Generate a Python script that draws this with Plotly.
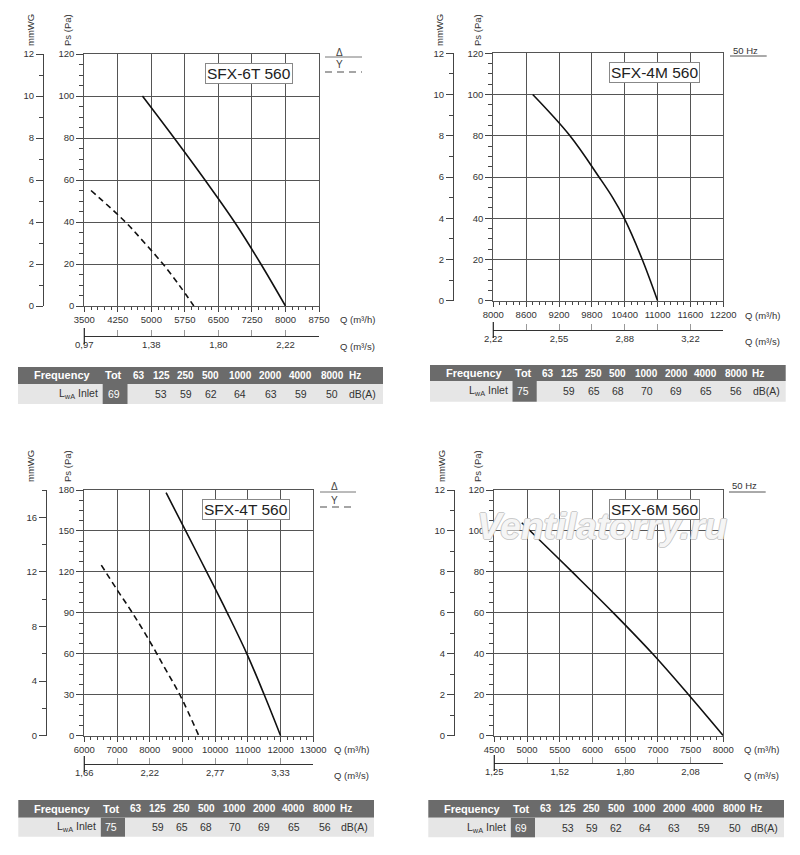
import plotly.graph_objects as go

W, H = 800, 855

# ---------------- data ----------------
BANDS = ["63", "125", "250", "500", "1000", "2000", "4000", "8000"]

# SFX-6T 560
M1_NAME = "SFX-6T 560"
M1_Q_TICKS = [3500, 4250, 5000, 5750, 6500, 7250, 8000, 8750]
M1_PS_TICKS = [0, 20, 40, 60, 80, 100, 120]
M1_MM_TICKS = [0, 2, 4, 6, 8, 10, 12]
M1_DELTA_Q = [4800, 5510, 6200, 6860, 7450, 8000]
M1_DELTA_PS = [100, 80, 60, 40, 20, 0]
M1_STAR_Q = [3650, 4420, 4850, 5260, 5620, 5950]
M1_STAR_PS = [55, 40, 30, 20, 10, 0]
M1_TOT = 69
M1_LWA = ["", 53, 59, 62, 64, 63, 59, 50]

# SFX-4M 560
M2_NAME = "SFX-4M 560"
M2_Q_TICKS = [8000, 8600, 9200, 9800, 10400, 11000, 11600, 12200]
M2_PS_TICKS = [0, 20, 40, 60, 80, 100, 120]
M2_MM_TICKS = [0, 2, 4, 6, 8, 10, 12]
M2_Q = [8720, 9400, 9930, 10180, 10390, 10720, 11000]
M2_PS = [100, 80, 60, 50, 40, 20, 0]
M2_TOT = 75
M2_LWA = ["", 59, 65, 68, 70, 69, 65, 56]

# SFX-4T 560
M3_NAME = "SFX-4T 560"
M3_Q_TICKS = [6000, 7000, 8000, 9000, 10000, 11000, 12000, 13000]
M3_PS_TICKS = [0, 30, 60, 90, 120, 150, 180]
M3_MM_TICKS = [0, 4, 8, 12, 16]
M3_DELTA_Q = [8500, 9100, 9740, 10370, 10970, 11500, 12000]
M3_DELTA_PS = [178, 150, 120, 90, 60, 30, 0]
M3_STAR_Q = [6520, 7000, 7470, 7980, 8450, 8920, 9500]
M3_STAR_PS = [125, 107, 90, 70, 50, 30, 0]
M3_TOT = 75
M3_LWA = ["", 59, 65, 68, 70, 69, 65, 56]

# SFX-6M 560
M4_NAME = "SFX-6M 560"
M4_Q_TICKS = [4500, 5000, 5500, 6000, 6500, 7000, 7500, 8000]
M4_PS_TICKS = [0, 20, 40, 60, 80, 100, 120]
M4_MM_TICKS = [0, 2, 4, 6, 8, 10, 12]
M4_Q = [4920, 5050, 5690, 6320, 6920, 7470, 8000]
M4_PS = [104, 100, 80, 60, 40, 20, 0]
M4_TOT = 69
M4_LWA = ["", 53, 59, 62, 64, 63, 59, 50]

# ---------------- geometry (pixels) ----------------
GEOM = [
    dict(x0=84.3, x1=319, y0=54, y1=306, mm_x=43, sec_y=336, ttl_y=30, mm_tx=30, ps_tx=67,
         qh=(338, 319), qs=(338, 346.5), name_c=(249.3, 73.3), leg="dy", leg_x=(325, 362), leg_y=(57, 72),
         table=(18, 383, 367, 384, 404)),
    dict(x0=493.3, x1=723.3, y0=53.3, y1=300.7, mm_x=453, sec_y=330, ttl_y=30, mm_tx=439, ps_tx=477,
         qh=(743, 315.7), qs=(743, 341.7), name_c=(654.5, 72.8), leg="hz", leg_x=(730, 766.7), leg_y=(56, 50),
         table=(430, 785.7, 365, 381, 401.7)),
    dict(x0=84.3, x1=313.3, y0=490, y1=735.7, mm_x=46, sec_y=764, ttl_y=466, mm_tx=30, ps_tx=67,
         qh=(332, 749), qs=(332, 775), name_c=(245.5, 509), leg="dy", leg_x=(320, 356), leg_y=(492, 507),
         table=(18.3, 374, 800, 817.7, 836.7)),
    dict(x0=494.3, x1=723.3, y0=490, y1=735.7, mm_x=454, sec_y=763, ttl_y=466, mm_tx=441, ps_tx=477,
         qh=(742, 749), qs=(742, 775), name_c=(654, 509), leg="hz", leg_x=(729, 765.7), leg_y=(492, 485.7),
         table=(428.3, 784, 800, 817.7, 837.3)),
]

PANELS = [
    dict(name=M1_NAME, q=M1_Q_TICKS, ps=M1_PS_TICKS, mm=M1_MM_TICKS,
         curves=[(M1_DELTA_Q, M1_DELTA_PS, "solid"), (M1_STAR_Q, M1_STAR_PS, "dash")], tot=M1_TOT, lwa=M1_LWA),
    dict(name=M2_NAME, q=M2_Q_TICKS, ps=M2_PS_TICKS, mm=M2_MM_TICKS,
         curves=[(M2_Q, M2_PS, "solid")], tot=M2_TOT, lwa=M2_LWA),
    dict(name=M3_NAME, q=M3_Q_TICKS, ps=M3_PS_TICKS, mm=M3_MM_TICKS,
         curves=[(M3_DELTA_Q, M3_DELTA_PS, "solid"), (M3_STAR_Q, M3_STAR_PS, "dash")], tot=M3_TOT, lwa=M3_LWA),
    dict(name=M4_NAME, q=M4_Q_TICKS, ps=M4_PS_TICKS, mm=M4_MM_TICKS,
         curves=[(M4_Q, M4_PS, "solid")], tot=M4_TOT, lwa=M4_LWA),
]

# table column centres as fraction of table width
COL_TOT = 0.262
COL_BANDS = [0.331, 0.392, 0.460, 0.528, 0.609, 0.692, 0.775, 0.861]
COL_HZ = 0.922
COL_DBA = 0.945

FONT = "Liberation Sans, Arial, sans-serif"
TXT = "#333333"
GRID = "#555555"
DARK = "#6b6b6b"
LIGHT = "#e6e6e6"


def px(x):
    return x / W


def py(y):
    return 1 - y / H


def trunc2(v):
    return f"{int(v * 100 + 1e-9) / 100:.2f}".replace(".", ",")


fig = go.Figure()
layout = {}
shapes = []

# watermark first so the model boxes sit on top of it
annots = [dict(text="<b><i>Ventilatorry.ru</i></b>", x=px(602), y=py(526),
               font=dict(size=37, color="rgba(255,255,255,0.85)", family=FONT,
                         shadow="1px 0 0 #c2c2c2, -1px 0 0 #c2c2c2, 0 1px 0 #c2c2c2, 0 -1px 0 #c2c2c2"))]

for i, (p, g) in enumerate(zip(PANELS, GEOM)):
    n = i + 1
    s = n + 4
    q = p["q"]
    ps = p["ps"]
    mm = p["mm"]
    tickfont = dict(size=9.5, color=TXT, family=FONT)

    layout[f"xaxis{n}"] = dict(
        domain=[px(g["x0"]), px(g["x1"])], anchor=f"y{n}", range=[q[0], q[-1]], automargin=False,
        tickmode="array", tickvals=q, ticktext=[str(v) for v in q],
        ticks="outside", ticklen=5, tickcolor="#444", tickfont=tickfont,
        showline=True, mirror=True, linecolor=GRID, linewidth=1,
        showgrid=True, gridcolor=GRID, gridwidth=1, zeroline=False,
        minor=dict(tick0=q[0], dtick=(q[1] - q[0]) / 5, ticks="outside", ticklen=3,
                   tickcolor="#444", showgrid=False),
    )
    layout[f"yaxis{n}"] = dict(
        domain=[py(g["y1"]), py(g["y0"])], anchor=f"x{n}", range=[0, ps[-1]], automargin=False,
        tickmode="array", tickvals=ps, ticktext=[str(v) for v in ps],
        ticks="outside", ticklen=7, tickcolor="#444", tickfont=tickfont,
        showline=True, mirror=True, linecolor=GRID, linewidth=1,
        showgrid=True, gridcolor=GRID, gridwidth=1, zeroline=False,
        minor=dict(tick0=0, dtick=(ps[1] - ps[0]) / 4, ticks="outside", ticklen=4,
                   tickcolor="#444", showgrid=False),
    )
    # m3/s axis: labelled every second grid line, plain ticks in between
    qs_step = (q[1] - q[0]) / 3600
    qs_vals = [v / 3600 for v in q[::2]]
    layout[f"xaxis{s}"] = dict(
        overlaying=f"x{n}", anchor="free", position=py(g["sec_y"]), side="bottom", automargin=False,
        range=[q[0] / 3600, q[-1] / 3600], tickmode="array", tickvals=qs_vals,
        ticktext=[trunc2(v) for v in qs_vals],
        ticks="inside", ticklen=6, tickcolor="#999", tickfont=tickfont,
        showline=True, linecolor="#333", linewidth=1, showgrid=False, zeroline=False,
        minor=dict(tick0=q[0] / 3600, dtick=qs_step, ticks="inside", ticklen=6, tickcolor="#999"),
    )
    # mmWG axis
    layout[f"yaxis{s}"] = dict(
        overlaying=f"y{n}", anchor="free", position=px(g["mm_x"]), side="left", automargin=False,
        range=[0, ps[-1] / 10], tickmode="array", tickvals=mm, ticktext=[str(v) for v in mm],
        ticks="outside", ticklen=7, tickcolor="#444", tickfont=tickfont,
        showline=True, linecolor="#444", linewidth=1, showgrid=False, zeroline=False,
        minor=dict(tick0=0, dtick=(mm[1] - mm[0]) / 2, ticks="outside", ticklen=4, tickcolor="#444"),
    )
    fig.add_trace(go.Scatter(x=[q[0] / 3600], y=[0], xaxis=f"x{s}", yaxis=f"y{n}", mode="markers",
                             marker=dict(opacity=0), hoverinfo="skip", showlegend=False))
    fig.add_trace(go.Scatter(x=[q[0]], y=[0], xaxis=f"x{n}", yaxis=f"y{s}", mode="markers",
                             marker=dict(opacity=0), hoverinfo="skip", showlegend=False))

    for cq, cps, dash in p["curves"]:
        fig.add_trace(go.Scatter(
            x=cq, y=cps, xaxis=f"x{n}", yaxis=f"y{n}", mode="lines",
            line=dict(color="#111", width=1.6, dash="6px,4px" if dash == "dash" else "solid",
                      shape="spline", smoothing=1),
            hoverinfo="skip", showlegend=False, cliponaxis=False,
        ))

    # tall tick at start of m3/s axis
    shapes.append(dict(type="line", xref="paper", yref="paper",
                       x0=px(g["x0"]), x1=px(g["x0"]), y0=py(g["sec_y"] - 8), y1=py(g["sec_y"] + 8),
                       line=dict(color="#222", width=1.2)))

    # axis titles
    annots.append(dict(text="mmWG", x=px(g["mm_tx"]), y=py(g["ttl_y"]), textangle=-90))
    annots.append(dict(text="Ps (Pa)", x=px(g["ps_tx"]), y=py(g["ttl_y"]), textangle=-90))
    annots.append(dict(text="Q (m³/h)", x=px(g["qh"][0]), y=py(g["qh"][1]), xanchor="left"))
    annots.append(dict(text="Q (m³/s)", x=px(g["qs"][0]), y=py(g["qs"][1]), xanchor="left"))

    # model name box
    annots.append(dict(text=p["name"], x=px(g["name_c"][0]), y=py(g["name_c"][1]),
                       font=dict(size=15.5, color="#222", family=FONT),
                       bgcolor="white", bordercolor="#888", borderwidth=1, borderpad=1))

    # legend
    lx0, lx1 = g["leg_x"]
    if g["leg"] == "dy":
        l1, l2 = g["leg_y"]
        shapes.append(dict(type="line", xref="paper", yref="paper", x0=px(lx0), x1=px(lx1),
                           y0=py(l1), y1=py(l1), line=dict(color="#777", width=1)))
        shapes.append(dict(type="line", xref="paper", yref="paper", x0=px(lx0), x1=px(lx1),
                           y0=py(l2), y1=py(l2), line=dict(color="#888", width=1.6, dash="7px,5px")))
        annots.append(dict(text="Δ", x=px(lx0 + 14), y=py(l1 - 5), font=dict(size=10, color="#444", family=FONT)))
        annots.append(dict(text="Y", x=px(lx0 + 14), y=py(l2 - 7), font=dict(size=10, color="#444", family=FONT)))
    else:
        ly, ty = g["leg_y"]
        shapes.append(dict(type="line", xref="paper", yref="paper", x0=px(lx0), x1=px(lx1),
                           y0=py(ly), y1=py(ly), line=dict(color="#555", width=1)))
        annots.append(dict(text="50 Hz", x=px(lx0 + 1), y=py(ty), xanchor="left",
                           font=dict(size=9.5, color="#333", family=FONT)))

    # sound table
    tx0, tx1, th0, th1, tr1 = g["table"]
    tw = tx1 - tx0
    shapes.append(dict(type="rect", xref="paper", yref="paper", x0=px(tx0), x1=px(tx1),
                       y0=py(th1), y1=py(th0), fillcolor=DARK, line=dict(width=0), layer="below"))
    shapes.append(dict(type="rect", xref="paper", yref="paper", x0=px(tx0), x1=px(tx1),
                       y0=py(tr1), y1=py(th1), fillcolor=LIGHT, line=dict(width=0), layer="below"))
    shapes.append(dict(type="rect", xref="paper", yref="paper", x0=px(tx0 + 0.232 * tw), x1=px(tx0 + 0.300 * tw),
                       y0=py(tr1), y1=py(th1), fillcolor=DARK, line=dict(width=0), layer="below"))
    hy = py((th0 + th1) / 2)
    ry = py((th1 + tr1) / 2)
    hfont = dict(size=10, color="white", family=FONT)
    annots.append(dict(text="<b>Frequency</b>", x=px(tx0 + 0.038 * tw), y=hy, xanchor="left",
                       font=dict(size=11, color="white", family=FONT)))
    annots.append(dict(text="<b>Tot</b>", x=px(tx0 + COL_TOT * tw), y=hy,
                       font=dict(size=11, color="white", family=FONT)))
    for b, f in zip(BANDS, COL_BANDS):
        annots.append(dict(text=f"<b>{b}</b>", x=px(tx0 + f * tw), y=hy, font=hfont))
    annots.append(dict(text="<b>Hz</b>", x=px(tx0 + COL_HZ * tw), y=hy, font=hfont))
    rfont = dict(size=10.5, color="#333", family=FONT)
    annots.append(dict(text="L<sub>wA</sub> Inlet", x=px(tx0 + 0.225 * tw), y=ry, xanchor="right", font=rfont))
    annots.append(dict(text=str(p["tot"]), x=px(tx0 + COL_TOT * tw), y=ry,
                       font=dict(size=10.5, color="white", family=FONT)))
    for v, f in zip(p["lwa"], COL_BANDS):
        if v != "":
            annots.append(dict(text=str(v), x=px(tx0 + f * tw), y=ry, font=rfont))
    annots.append(dict(text="dB(A)", x=px(tx0 + COL_DBA * tw), y=ry, font=rfont))

for a in annots:
    a.setdefault("xref", "paper")
    a.setdefault("yref", "paper")
    a.setdefault("xanchor", "center")
    a.setdefault("yanchor", "middle")
    a.setdefault("showarrow", False)
    a.setdefault("font", dict(size=9.5, color=TXT, family=FONT))

fig.update_layout(
    template="none",
    width=W, height=H, margin=dict(l=0, r=0, t=0, b=0, autoexpand=False),
    paper_bgcolor="white", plot_bgcolor="white", showlegend=False,
    font=dict(family=FONT, color=TXT, size=9.5),
    shapes=shapes, annotations=annots, **layout,
)

fig.write_html("out.html", config={"displayModeBar": False},
               post_script="document.body.style.margin='0px';")
